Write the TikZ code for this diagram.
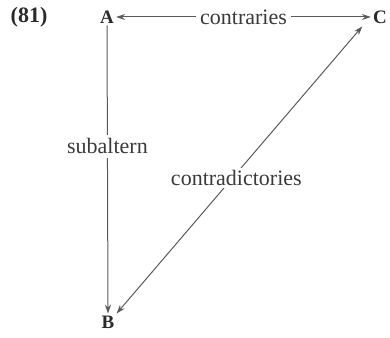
\documentclass[tikz,border=0pt]{standalone}
\usepackage{fontspec}
\setmainfont{Liberation Serif}
\usetikzlibrary{arrows.meta}
\definecolor{ink}{HTML}{2A2A2A}
\definecolor{lblink}{HTML}{3A3A3A}
\definecolor{lineink}{HTML}{5A5A5A}
\begin{document}
\begin{tikzpicture}[x=1pt,y=-1pt,
  vertex/.style={font=\fontsize{19}{19}\selectfont\bfseries, text=ink, inner sep=2pt},
  lbl/.style={font=\fontsize{22}{22}\selectfont, text=lblink, fill=white, inner sep=4pt},
  conn/.style={draw=lineink, line width=1pt, -{Stealth[length=9pt,width=6pt]}},
  biconn/.style={draw=lineink, line width=1pt, {Stealth[length=9pt,width=6pt]}-{Stealth[length=9pt,width=6pt]}}]
\useasboundingbox (0,0) rectangle (390,337);
\node[vertex, font=\fontsize{22}{22}\selectfont\bfseries] (num) at (29,17) {(81)};
\node[vertex] (A) at (107,17) {A};
\node[vertex] (B) at (108,322) {B};
\node[vertex] (C) at (380,17) {C};
\draw[biconn] (A.east) -- node[lbl, pos=0.5] (lc) {contraries} (C.west);
\draw[conn] (A.south) -- node[lbl, pos=0.42] (ls) {subaltern} (B.north);
\draw[biconn, shorten >=1pt] (B.north east) -- node[lbl, pos=0.47, xshift=4pt, inner sep=2pt] (ld) {contradictories} ([xshift=-8pt]C.south west);
\end{tikzpicture}
\end{document}
